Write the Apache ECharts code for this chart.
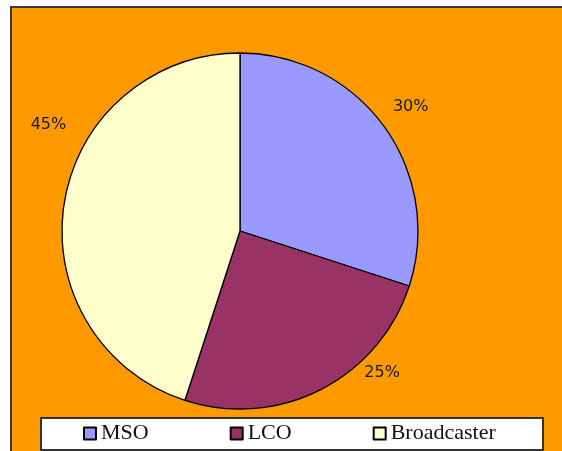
<!DOCTYPE html>
<html>
<head>
<meta charset="utf-8">
<script src="https://cdn.jsdelivr.net/npm/echarts@6/dist/echarts.min.js"></script>
<style>
  html, body { margin: 0; padding: 0; background: #ffffff; }
  #chart { width: 562px; height: 451px; }
</style>
</head>
<body>
<div id="chart"></div>
<script>
// Share of each category (percent)
const categories = ['MSO', 'LCO', 'Broadcaster'];
const shares = [30, 25, 45];
const sliceColors = ['#9999FF', '#993366', '#FFFFCC'];

// Label placement: distance from centre and angular shift (degrees) from each slice's mid-angle
const labelRadius = [211, 201, 219];
const labelAngleShift = [0, -18, 20];

const cx = 240, cy = 231, pieRadius = 178;

const total = shares.reduce((a, b) => a + b, 0);
let acc = 0;
const midAngles = shares.map(v => {
  const m = (acc + v / 2) / total * 2 * Math.PI;
  acc += v;
  return m;
});

const chart = echarts.init(document.getElementById('chart'), null, { renderer: 'canvas' });

chart.setOption({
  animation: false,
  backgroundColor: '#ffffff',
  graphic: [
    {
      type: 'rect',
      z: 0,
      shape: { x: 11, y: 7, width: 560, height: 452 },
      style: { fill: '#FF9900', stroke: '#3a3a3a', lineWidth: 2 }
    },
    {
      type: 'rect',
      z: 1,
      shape: { x: 41, y: 418, width: 502, height: 32 },
      style: { fill: '#ffffff', stroke: '#333333', lineWidth: 2 }
    }
  ],
  legend: {
    data: categories,
    orient: 'horizontal',
    left: 83,
    top: 422,
    padding: 0,
    itemGap: 81,
    itemWidth: 12,
    itemHeight: 12,
    icon: 'rect',
    z: 5,
    textStyle: {
      fontFamily: 'Liberation Serif',
      fontSize: 22,
      lineHeight: 23,
      color: '#111111'
    }
  },
  series: [{
    type: 'pie',
    center: [cx, cy],
    radius: pieRadius,
    startAngle: 90,
    clockwise: true,
    silent: true,
    itemStyle: { borderColor: '#000000', borderWidth: 1.3 },
    label: {
      show: true,
      position: 'outside',
      formatter: p => p.value + '%',
      fontFamily: 'DejaVu Sans',
      fontSize: 16,
      color: '#1a1a1a'
    },
    labelLine: { show: false, length: 10, length2: 0 },
    labelLayout: function (params) {
      const i = params.dataIndex;
      const a = midAngles[i] + labelAngleShift[i] * Math.PI / 180;
      return {
        x: cx + labelRadius[i] * Math.sin(a),
        y: cy - labelRadius[i] * Math.cos(a),
        align: 'center',
        verticalAlign: 'middle'
      };
    },
    data: categories.map((name, i) => ({
      name: name,
      value: shares[i],
      itemStyle: { color: sliceColors[i] }
    }))
  }]
});
</script>
</body>
</html>
